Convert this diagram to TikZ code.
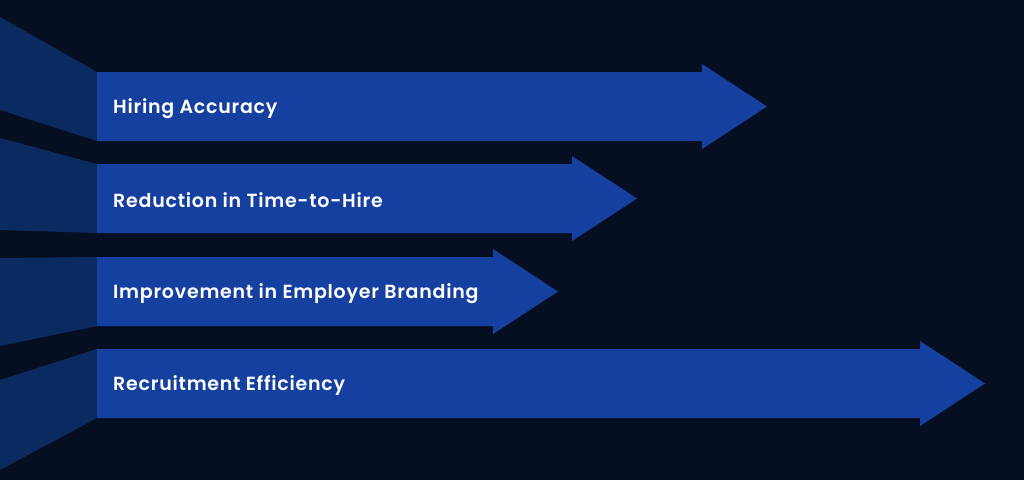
\documentclass[tikz,border=0pt]{standalone}
\usepackage{fontspec}
\setmainfont{Poppins}[UprightFont=* SemiBold,LetterSpace=4]
\definecolor{bg}{HTML}{060F22}
\definecolor{bar}{HTML}{1540A0}
\definecolor{side}{HTML}{0B2A60}
\begin{document}
\begin{tikzpicture}[x=1pt,y=-1pt]
\tikzset{lbl/.style={anchor=west,text=white,font=\fontsize{19}{21}\selectfont,inner sep=0}}
\fill[bg] (0,0) rectangle (1024,480);
\useasboundingbox (0,0) rectangle (1024,480);
% side trapezoids
\fill[side] (0,17) -- (97,72) -- (97,141) -- (0,110) -- cycle;
\fill[side] (0,138) -- (97,164) -- (97,233) -- (0,230) -- cycle;
\fill[side] (0,258) -- (97,257) -- (97,326) -- (0,346) -- cycle;
\fill[side] (0,380) -- (97,349) -- (97,418) -- (0,470) -- cycle;
% arrows
\fill[bar] (97,72) -- (702,72) -- (702,64) -- (767,106.5) -- (702,149) -- (702,141) -- (97,141) -- cycle;
\fill[bar] (97,164) -- (572,164) -- (572,156) -- (637,198.5) -- (572,241) -- (572,233) -- (97,233) -- cycle;
\fill[bar] (97,257) -- (493,257) -- (493,249) -- (558,291.5) -- (493,334) -- (493,326) -- (97,326) -- cycle;
\fill[bar] (97,349) -- (920,349) -- (920,341) -- (985,383.5) -- (920,426) -- (920,418) -- (97,418) -- cycle;
\node[lbl] (t1) at (113,108.5) {Hiring Accuracy};
\node[lbl] (t2) at (113,200.5) {Reduction in Time-to-Hire};
\node[lbl] (t3) at (113,293.5) {Improvement in Employer Branding};
\node[lbl] (t4) at (113,385.5) {Recruitment Efficiency};
\end{tikzpicture}
\end{document}
